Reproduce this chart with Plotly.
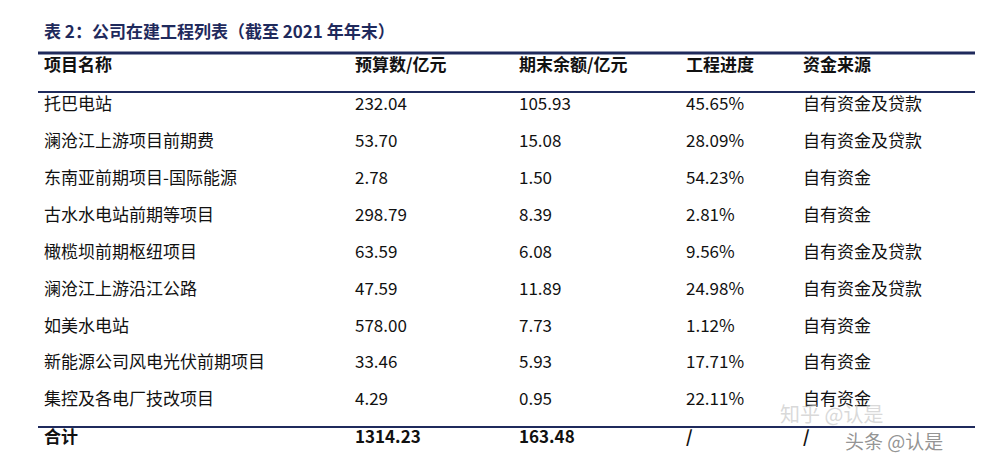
import plotly.graph_objects as go

title = "表 2：公司在建工程列表（截至 2021 年年末）"
headers = ["项目名称", "预算数/亿元", "期末余额/亿元", "工程进度", "资金来源"]
projects = ["托巴电站", "澜沧江上游项目前期费", "东南亚前期项目-国际能源", "古水水电站前期等项目",
            "橄榄坝前期枢纽项目", "澜沧江上游沿江公路", "如美水电站", "新能源公司风电光伏前期项目",
            "集控及各电厂技改项目"]
budget = ["232.04", "53.70", "2.78", "298.79", "63.59", "47.59", "578.00", "33.46", "4.29"]
balance = ["105.93", "15.08", "1.50", "8.39", "6.08", "11.89", "7.73", "5.93", "0.95"]
progress = ["45.65%", "28.09%", "54.23%", "2.81%", "9.56%", "24.98%", "1.12%", "17.71%", "22.11%"]
funding = ["自有资金及贷款", "自有资金及贷款", "自有资金", "自有资金", "自有资金及贷款",
           "自有资金及贷款", "自有资金", "自有资金", "自有资金"]
total = ["合计", "1314.23", "163.48", "/", "/"]

navy = "#1f2a5c"
col_x = [36, 347, 511, 678, 795]
row_y = [98, 135, 172, 209, 246, 283, 320, 356, 393]
cjk = "Noto Sans CJK SC"

fig = go.Figure()
for i, col in enumerate([projects, budget, balance, progress, funding]):
    fig.add_trace(go.Scatter(
        x=[col_x[i]] * len(col), y=row_y, text=col, mode="text",
        textposition="middle right",
        textfont=dict(family=cjk, size=17, color="#111111"),
        hoverinfo="skip", showlegend=False))

fig.add_trace(go.Scatter(
    x=col_x, y=[59] * 5, text=headers, mode="text", textposition="middle right",
    textfont=dict(family=cjk, size=17, color="#111111", weight="bold"),
    hoverinfo="skip", showlegend=False))
fig.add_trace(go.Scatter(
    x=col_x, y=[431] * 5, text=total, mode="text", textposition="middle right",
    textfont=dict(family=cjk, size=17, color="#111111", weight="bold"),
    hoverinfo="skip", showlegend=False))

fig.add_annotation(x=34, y=22, xref="x", yref="y", text="<b>" + title + "</b>",
                   showarrow=False, xanchor="left",
                   font=dict(family=cjk, size=17, color=navy))

for y, w in [(45, 3), (84, 2), (419, 2), (456, 3)]:
    fig.add_shape(type="line", x0=30, x1=983, y0=y, y1=y, xref="x", yref="y",
                  line=dict(color=navy, width=w))

# watermarks
fig.add_annotation(x=770, y=405, text="知乎 @认是", showarrow=False, xanchor="left",
                   font=dict(family=cjk, size=20, color="rgba(200,200,200,0.7)"))
fig.add_annotation(x=835, y=432, text="头条 @认是", showarrow=False, xanchor="left",
                   font=dict(family=cjk, size=19, color="rgba(120,120,120,0.8)"))

fig.update_layout(
    width=983, height=461, margin=dict(l=0, r=0, t=0, b=0),
    plot_bgcolor="white", paper_bgcolor="white",
    xaxis=dict(range=[0, 983], visible=False),
    yaxis=dict(range=[461, 0], visible=False),
)
fig.write_html("out.html")
